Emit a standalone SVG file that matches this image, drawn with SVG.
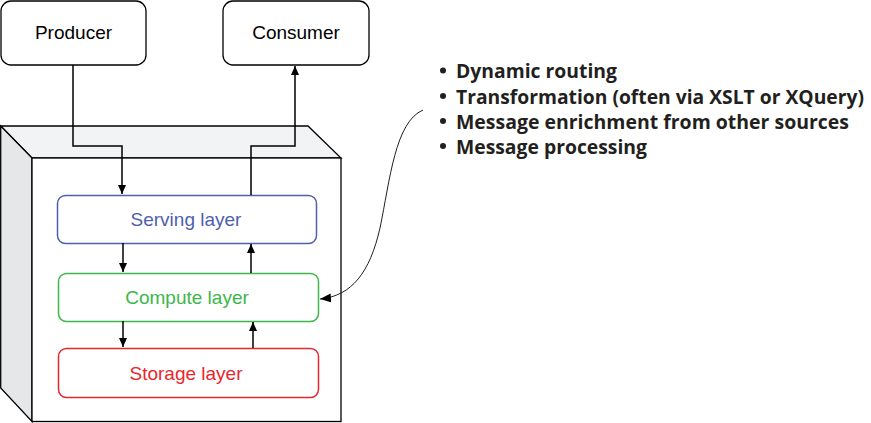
<svg xmlns="http://www.w3.org/2000/svg" width="871" height="423" viewBox="0 0 871 423">
<style>
.box{fill:#fff;stroke:#000;stroke-width:1.3}
.lbl{font-family:"Liberation Sans",Arial,sans-serif;font-size:19px;text-anchor:middle}
.con{fill:none;stroke:#000;stroke-width:1.5}
.bul{font-family:"Open Sans","Liberation Sans",sans-serif;font-weight:bold;font-size:19px;fill:#231f20}
</style>
<defs>
<marker id="ah" markerWidth="10" markerHeight="10" refX="9" refY="5" orient="auto" markerUnits="userSpaceOnUse">
<path d="M0,1 L9,5 L0,9 Z" fill="#000"/>
</marker>
<marker id="ah2" markerWidth="12" markerHeight="10" refX="11" refY="5" orient="auto" markerUnits="userSpaceOnUse">
<path d="M0,0.5 L11,5 L0,9.5 Z" fill="#000"/>
</marker>
</defs>
<g id="cube">
<path d="M0.7,126 L308,126 L341,158 L32,158 Z" fill="#f2f3f5" stroke="#000" stroke-width="1.3"/>
<path d="M0.7,126 L32,158 L32,421.5 L0.7,388 Z" fill="#e6e7e8" stroke="#000" stroke-width="1.3"/>
<rect x="32" y="158" width="309" height="263.5" fill="#fff" stroke="#000" stroke-width="1.3"/>
</g>
<g id="producer">
<rect class="box" x="1" y="1" width="145" height="64" rx="10"/>
<text class="lbl" x="73.5" y="39">Producer</text>
</g>
<g id="consumer">
<rect class="box" x="223" y="1" width="146" height="64" rx="10"/>
<text class="lbl" x="296" y="39">Consumer</text>
</g>
<g id="serving">
<rect x="57.5" y="195.5" width="259" height="48" rx="8" fill="#fff" stroke="#4f5fae" stroke-width="1.5"/>
<text class="lbl" x="186" y="226" fill="#4f5fae">Serving layer</text>
</g>
<g id="compute">
<rect x="58.5" y="273.5" width="260" height="48" rx="8" fill="#fff" stroke="#3db64a" stroke-width="1.5"/>
<text class="lbl" x="187" y="304" fill="#3db64a">Compute layer</text>
</g>
<g id="storage">
<rect x="58.5" y="348.5" width="260" height="49" rx="8" fill="#fff" stroke="#e8262d" stroke-width="1.5"/>
<text class="lbl" x="186" y="380" fill="#e8262d">Storage layer</text>
</g>
<g id="notes">
<circle cx="443" cy="70.5" r="3" fill="#231f20"/>
<circle cx="443" cy="96" r="3" fill="#231f20"/>
<circle cx="443" cy="121" r="3" fill="#231f20"/>
<circle cx="443" cy="146" r="3" fill="#231f20"/>
<text class="bul" x="456" y="78" textLength="161" lengthAdjust="spacingAndGlyphs">Dynamic routing</text>
<text class="bul" x="456" y="104" textLength="408" lengthAdjust="spacingAndGlyphs">Transformation (often via XSLT or XQuery)</text>
<text class="bul" x="456" y="129" textLength="393" lengthAdjust="spacingAndGlyphs">Message enrichment from other sources</text>
<text class="bul" x="456" y="154" textLength="191" lengthAdjust="spacingAndGlyphs">Message processing</text>
</g>
<g id="connectors">
<path class="con" d="M73,65 L73,146 L122,146 L122,194" marker-end="url(#ah)"/>
<path class="con" d="M251,195 L251,146 L295,146 L295,66" marker-end="url(#ah)"/>
<path class="con" d="M123,243 L123,272" marker-end="url(#ah)"/>
<path class="con" d="M251,273 L251,244" marker-end="url(#ah)"/>
<path class="con" d="M123,321 L123,347" marker-end="url(#ah)"/>
<path class="con" d="M253,348 L253,322" marker-end="url(#ah)"/>
<path d="M423,110 C395,122 390,180 380,228 C370,272 352,296 320,299" fill="none" stroke="#231f20" stroke-width="1" marker-end="url(#ah2)"/>
</g>
</svg>
